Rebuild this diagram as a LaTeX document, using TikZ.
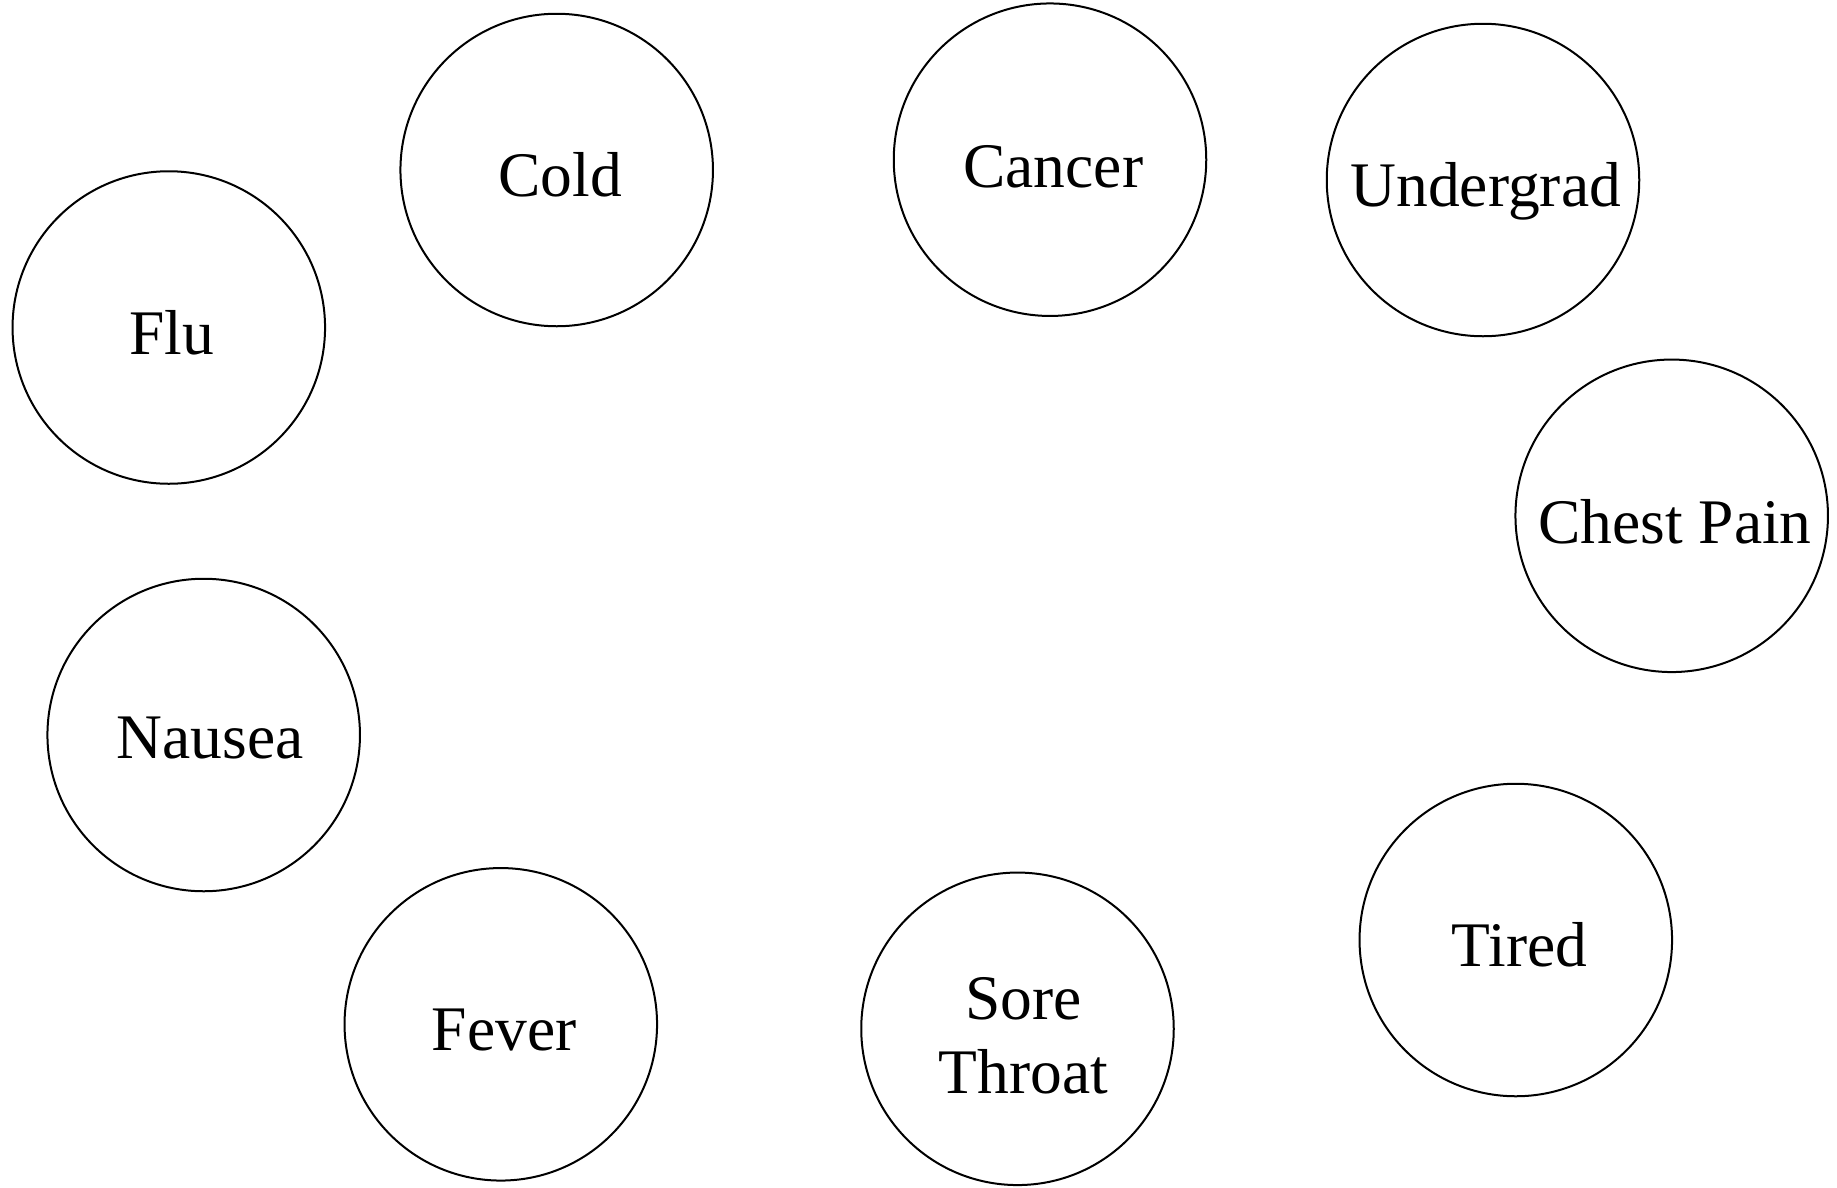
\documentclass[tikz,border=0pt]{standalone}
\usepackage{fontspec}
\setmainfont{Liberation Serif}
\begin{document}
\begin{tikzpicture}[x=1pt,y=-1pt,
  state/.style={circle,draw=black,line width=2pt,minimum size=312.5pt,inner sep=0pt,outer sep=0pt},
  caption/.style={anchor=base,inner sep=0pt,font=\fontsize{63.5}{74}\selectfont}]
\useasboundingbox (0,0) rectangle (1837,1187);

% symptom / condition circles
\node[state] (flu)       at (168.8,327.5)  {};
\node[state] (cold)      at (556.7,170)    {};
\node[state] (cancer)    at (1050,159.7)   {};
\node[state] (undergrad) at (1483,180)     {};
\node[state] (chest)     at (1671.7,515.8) {};
\node[state] (nausea)    at (203.7,735)    {};
\node[state] (fever)     at (500.8,1024.3) {};
\node[state] (sore)      at (1017.5,1028.8){};
\node[state] (tired)     at (1515.8,940)   {};

% labels, set on their baselines inside each circle
\node[caption] (fluT)       at ([shift={(3,26.5)}]flu.center)       {Flu};
\node[caption] (coldT)      at ([shift={(3.3,26.7)}]cold.center)    {Cold};
\node[caption] (cancerT)    at ([shift={(3.3,27.6)}]cancer.center)  {Cancer};
\node[caption] (undergradT) at ([shift={(2.8,26.7)}]undergrad.center) {Undergrad};
\node[caption] (chestT)     at ([shift={(3.3,27.2)}]chest.center)   {Chest Pain};
\node[caption] (nauseaT)    at ([shift={(6.3,23.3)}]nausea.center)  {Nausea};
\node[caption] (feverT)     at ([shift={(3.4,25.7)}]fever.center)   {Fever};
\node[caption] (soreT)      at ([shift={(6,-9.5)}]sore.center)
  {\begin{tabular}[t]{@{}c@{}}Sore\\Throat\end{tabular}};
\node[caption] (tiredT)     at ([shift={(3.7,26)}]tired.center)     {Tired};
\end{tikzpicture}
\end{document}
